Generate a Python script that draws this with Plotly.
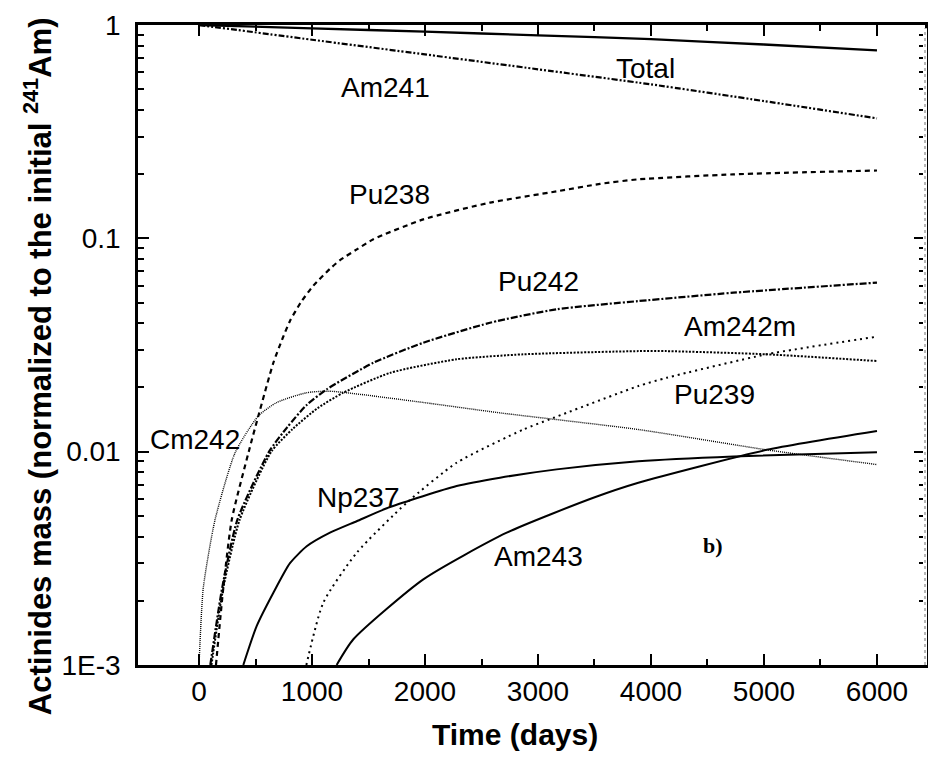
import math
import plotly.graph_objects as go

# ---------------- data ----------------
total_t = [0, 1000, 2000, 3000, 4000, 5000, 6000]
total_m = [1.0, 0.965, 0.93, 0.895, 0.858, 0.81, 0.76]

am241_t = [0, 1000, 2000, 3000, 4000, 5000, 6000]
am241_m = [1.0, 0.853, 0.728, 0.62, 0.527, 0.44, 0.365]

pu238_t = [150, 215, 290, 440, 525, 658, 740, 805, 900, 1012, 1159, 1248, 1400, 1543, 1985, 2575, 3165, 3549, 3888, 4729, 6000]
pu238_m = [0.001, 0.0023, 0.0048, 0.0100, 0.0147, 0.0261, 0.034, 0.041, 0.050, 0.060, 0.072, 0.079, 0.089, 0.099, 0.1227, 0.147, 0.166, 0.18, 0.189, 0.1995, 0.208]

pu242_t = [100, 205, 340, 620, 780, 950, 1130, 1543, 1985, 2575, 3165, 3888, 4729, 6000]
pu242_m = [0.001, 0.0023, 0.0048, 0.0100, 0.0130, 0.0165, 0.0196, 0.0261, 0.0324, 0.0402, 0.0465, 0.0508, 0.0556, 0.062]

am242m_t = [110, 215, 360, 640, 830, 1050, 1277, 1690, 2280, 2870, 3888, 4139, 5024, 6000]
am242m_m = [0.001, 0.0023, 0.0048, 0.0100, 0.0128, 0.0160, 0.0189, 0.0234, 0.0271, 0.0286, 0.0296, 0.0296, 0.0286, 0.0266]

cm242_t = [0, 38, 142, 320, 525, 688, 953, 1159, 1985, 2664, 3888, 5024, 6000]
cm242_m = [0.001, 0.0023, 0.0048, 0.0099, 0.0147, 0.0170, 0.0189, 0.0192, 0.0170, 0.0152, 0.0127, 0.0102, 0.0087]

pu239_t = [950, 1100, 1396, 1838, 2280, 2870, 3106, 3888, 4139, 5024, 6000]
pu239_m = [0.001, 0.00196, 0.00336, 0.00576, 0.00887, 0.0127, 0.0142, 0.0203, 0.0222, 0.0286, 0.0346]

np237_t = [392, 510, 658, 805, 953, 1159, 1395, 1690, 2280, 2664, 3165, 3888, 4729, 6000]
np237_m = [0.001, 0.00152, 0.00218, 0.0030, 0.0036, 0.00417, 0.00472, 0.0055, 0.0069, 0.00755, 0.00826, 0.00902, 0.0095, 0.00995]

am243_t = [1218, 1366, 1985, 2723, 3490, 3888, 5024, 6000]
am243_m = [0.001, 0.00132, 0.00252, 0.00417, 0.00608, 0.00715, 0.0102, 0.0125]

x_ticks = [0, 1000, 2000, 3000, 4000, 5000, 6000]
y_ticks = [0.001, 0.01, 0.1, 1]
y_tick_labels = ["1E-3", "0.01", "0.1", "1"]

# ---------------- figure ----------------
series = [
    ("Total", total_t, total_m, "solid", 2.3),
    ("Am241", am241_t, am241_m, "6px,2px,2px,2px,2px,2px", 2.2),
    ("Pu238", pu238_t, pu238_m, "5px,4px", 2.2),
    ("Pu242", pu242_t, pu242_m, "7px,2px,2px,2px", 2.2),
    ("Am242m", am242m_t, am242m_m, "2px,1.5px", 2.0),
    ("Cm242", cm242_t, cm242_m, "1px,1px", 1.4),
    ("Pu239", pu239_t, pu239_m, "2px,4px", 2.0),
    ("Np237", np237_t, np237_m, "solid", 2.0),
    ("Am243", am243_t, am243_m, "solid", 2.0),
]

fig = go.Figure()
for name, t, m, dash, w in series:
    fig.add_trace(go.Scatter(x=t, y=m, mode="lines", name=name,
                             line=dict(color="black", width=w, dash=dash, shape="spline", smoothing=0.6),
                             showlegend=False))

label_font = dict(family="Liberation Sans, Arial", size=28, color="black")
label_pos = {
    "Total": (3947, 0.626),
    "Am241": (1646, 0.51),
    "Pu238": (1690, 0.160),
    "Pu242": (3000, 0.0628),
    "Am242m": (4788, 0.0386),
    "Pu239": (4566, 0.0185),
    "Cm242": (-35, 0.0114),
    "Np237": (1407, 0.0061),
    "Am243": (3000, 0.00323),
}
for name, (lx, ly) in label_pos.items():
    fig.add_annotation(x=lx, y=math.log10(ly), text=name, showarrow=False, font=label_font)
fig.add_annotation(x=4549, y=math.log10(0.00363), text="<b>b)</b>", showarrow=False,
                   font=dict(family="Liberation Serif, Times New Roman", size=22, color="black"))

# axis titles
fig.add_annotation(xref="paper", yref="paper", x=0.479, y=-0.109, text="<b>Time (days)</b>",
                   showarrow=False, xanchor="center", yanchor="middle",
                   font=dict(family="Liberation Sans, Arial", size=30, color="black"))
fig.add_annotation(xref="paper", yref="paper", x=-0.127, y=0.467,
                   text="<b>Actinides mass (normalized to the initial <sup>241</sup>Am)</b>",
                   textangle=-90, showarrow=False, xanchor="center", yanchor="middle",
                   font=dict(family="Liberation Sans, Arial", size=31, color="black"))

minor_y = [k * 10 ** e for e in (-3, -2, -1) for k in range(2, 10)]
tick_font = dict(family="Liberation Sans, Arial", size=28, color="black")

fig.update_layout(
    width=928, height=762,
    margin=dict(l=138, r=3, t=25, b=97),
    paper_bgcolor="white", plot_bgcolor="rgba(0,0,0,0)",
    xaxis=dict(range=[-540, 6425], tickmode="array", tickvals=x_ticks, ticks="inside", ticklen=11, tickwidth=2,
               tickcolor="black", showline=True, linewidth=2.5, linecolor="black",
               mirror="ticks", showgrid=False, zeroline=False, automargin=False,
               minor=dict(tickvals=[500, 1500, 2500, 3500, 4500, 5500], ticks="inside", ticklen=6,
                          tickwidth=2, tickcolor="black", showgrid=False),
               tickfont=tick_font),
    yaxis=dict(type="log", range=[-3, 0], tickmode="array", tickvals=y_ticks, ticktext=y_tick_labels,
               ticks="inside", ticklen=11, tickwidth=2, tickcolor="black",
               showline=True, linewidth=2.5, linecolor="black", mirror="ticks",
               showgrid=False, zeroline=False, automargin=False, ticklabelstandoff=9,
               minor=dict(tickvals=minor_y, ticks="inside", ticklen=6, tickwidth=2,
                          tickcolor="black", showgrid=False),
               tickfont=tick_font),
)

# faint right-hand frame line (the scanned original shows it light and broken)
fig.add_shape(type="line", xref="paper", yref="paper", x0=1, x1=1, y0=0, y1=0.995,
              layer="above", line=dict(color="white", width=4))
fig.add_shape(type="line", xref="paper", yref="paper", x0=1, x1=1, y0=0, y1=0.995,
              layer="above", line=dict(color="#888", width=1.2, dash="dot"))

fig.write_html("out.html", config={"displayModeBar": False},
               post_script="document.body.style.margin='0px';document.body.style.overflow='hidden';")
